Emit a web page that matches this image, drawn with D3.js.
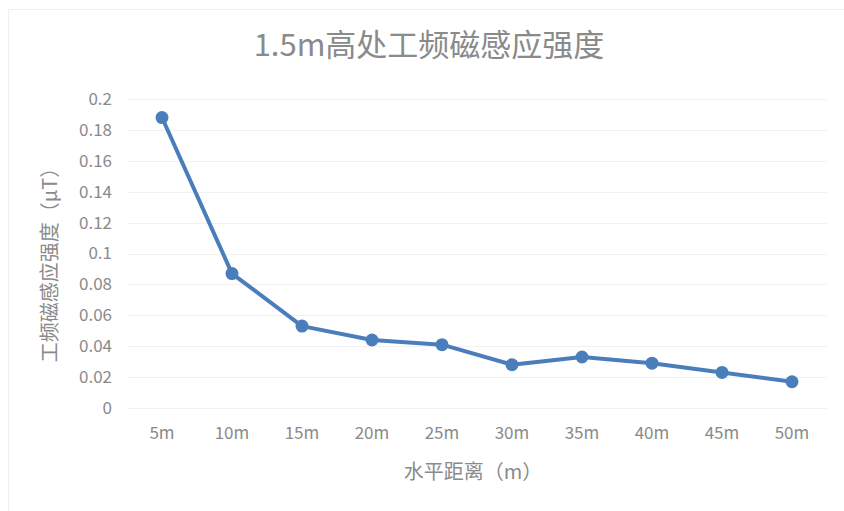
<!DOCTYPE html>
<html>
<head>
<meta charset="utf-8">
<script src="https://cdn.jsdelivr.net/npm/d3@7"></script>
<style>
  body { margin: 0; background: #fff; }
  text { font-family: "Noto Sans CJK SC", "Noto Sans", sans-serif; }
</style>
</head>
<body>
<div id="chart"></div>
<script>
// data
const distances = ["5m", "10m", "15m", "20m", "25m", "30m", "35m", "40m", "45m", "50m"];
const fieldValues = [0.188, 0.087, 0.053, 0.044, 0.041, 0.028, 0.033, 0.029, 0.023, 0.017];
const yTicks = [0, 0.02, 0.04, 0.06, 0.08, 0.1, 0.12, 0.14, 0.16, 0.18, 0.2];

const chartTitle = "1.5m高处工频磁感应强度";
const xTitle = "水平距离（m）";
const yTitle = "工频磁感应强度（μT）";

const W = 844, H = 511;
const margin = { top: 99, right: 17, bottom: 103, left: 127 };
const width = W - margin.left - margin.right,
      height = H - margin.top - margin.bottom;

const svg = d3.select("#chart").append("svg")
    .attr("width", W)
    .attr("height", H);

// faint chart border (only top and left visible)
svg.append("rect")
    .attr("x", 8.5).attr("y", 9.5)
    .attr("width", W).attr("height", H)
    .attr("fill", "none")
    .attr("stroke", "#f0f0f0");

const plot = svg.append("g")
    .attr("transform", "translate(" + [margin.left, margin.top] + ")");

const x = d3.scaleBand().domain(distances).range([0, width]).padding(0);
const y = d3.scaleLinear().domain([0, 0.2]).range([height, 0]);

// gridlines
plot.append("g")
    .selectAll("line")
    .data(yTicks)
    .enter().append("line")
    .attr("x1", 0).attr("x2", width)
    .attr("y1", d => Math.round(y(d)) + 0.5)
    .attr("y2", d => Math.round(y(d)) + 0.5)
    .attr("stroke", "#f1f1f1")
    .attr("stroke-width", 1);

// y axis labels
const yAxis = plot.append("g")
    .attr("transform", "translate(-15,0)")
    .call(d3.axisLeft(y).tickValues(yTicks).tickSize(0).tickPadding(0).tickFormat(d => d3.format("~g")(d)));
yAxis.select(".domain").remove();
yAxis.selectAll("text")
    .attr("fill", "#8a8a8a")
    .style("font-size", "17px");

// x axis labels
const xAxis = plot.append("g")
    .attr("transform", "translate(0," + (height + 18) + ")")
    .call(d3.axisBottom(x).tickSize(0).tickPadding(0));
xAxis.select(".domain").remove();
xAxis.selectAll("text")
    .attr("fill", "#8a8a8a")
    .attr("dy", "0.75em")
    .style("font-size", "17px");

// series line
const line = d3.line()
    .x((d, i) => x(distances[i]) + x.bandwidth() / 2)
    .y(d => y(d));

plot.append("path")
    .datum(fieldValues)
    .attr("d", line)
    .attr("fill", "none")
    .attr("stroke", "#4a7ebb")
    .attr("stroke-width", 4)
    .attr("stroke-linejoin", "round");

plot.selectAll("circle")
    .data(fieldValues)
    .enter().append("circle")
    .attr("cx", (d, i) => x(distances[i]) + x.bandwidth() / 2)
    .attr("cy", d => y(d))
    .attr("r", 6.5)
    .attr("fill", "#4a7ebb");

// titles
svg.append("text")
    .attr("x", 429).attr("y", 56)
    .attr("text-anchor", "middle")
    .attr("fill", "#8a8a8a")
    .style("font-size", "31px")
    .text(chartTitle);

svg.append("text")
    .attr("x", 473).attr("y", 479)
    .attr("text-anchor", "middle")
    .attr("fill", "#8a8a8a")
    .style("font-size", "20px")
    .text(xTitle);

svg.append("text")
    .attr("transform", "translate(57,260) rotate(-90)")
    .attr("text-anchor", "middle")
    .attr("fill", "#8a8a8a")
    .style("font-size", "20px")
    .text(yTitle);
</script>
</body>
</html>
